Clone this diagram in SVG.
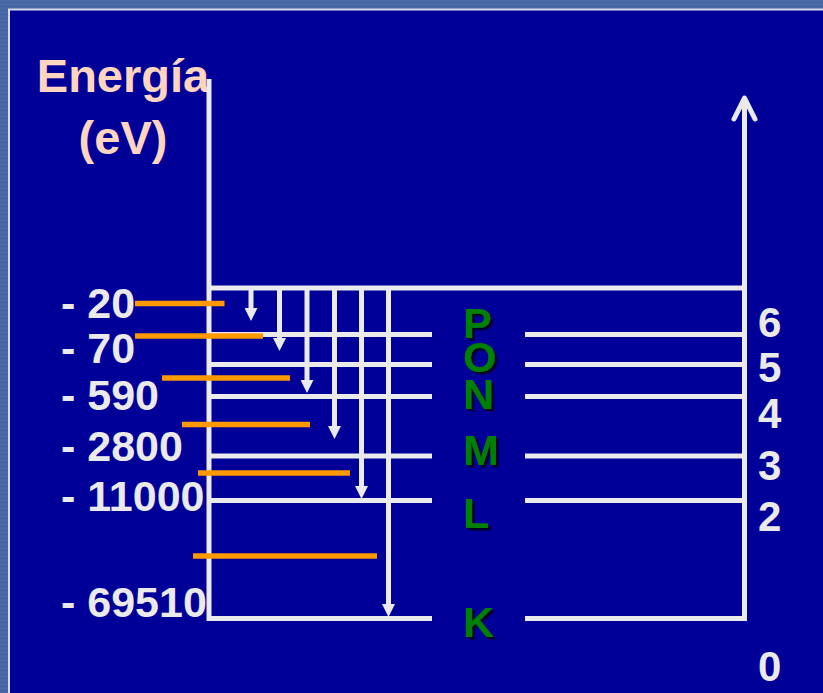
<svg xmlns="http://www.w3.org/2000/svg" width="823" height="693" viewBox="0 0 823 693">
<defs>
<pattern id="stripes" width="8" height="4" patternUnits="userSpaceOnUse">
<rect width="8" height="4" fill="#4a69a7"/>
<rect y="2" width="8" height="1" fill="#42609d"/>
</pattern>
<marker id="ah" viewBox="0 0 13 13" markerWidth="13" markerHeight="13" refX="1" refY="6.5" orient="auto" markerUnits="userSpaceOnUse">
<path d="M0,0 L13,6.5 L0,13 Z" fill="#eaeaea"/>
</marker>
<filter id="shadow" x="-20%" y="-20%" width="150%" height="150%">
<feDropShadow dx="2.5" dy="2.5" stdDeviation="0.4" flood-color="#000022" flood-opacity="1"/>
</filter>
</defs>
<style>
.w{stroke:#eaeaea;stroke-width:5;fill:none}
.o{stroke:#ff9900;stroke-width:5.5;fill:none}
.lbl{font-family:"Liberation Sans",Arial,sans-serif;font-weight:bold;fill:#eaeaea;font-size:43px}
.num{font-family:"Liberation Sans",Arial,sans-serif;font-weight:bold;fill:#eaeaea;font-size:42px}
.sh{font-family:"Liberation Sans",Arial,sans-serif;font-weight:bold;font-size:43px;fill:#008000;filter:url(#shadow)}
.t{font-family:"Liberation Sans",Arial,sans-serif;font-weight:bold;fill:#ffd5c0;font-size:47px;text-anchor:middle}
</style>
<rect width="823" height="693" fill="url(#stripes)"/>
<rect x="9" y="9.5" width="830" height="700" fill="#000099" stroke="#d8dcec" stroke-width="2"/>

<g id="title">
<text class="t" x="123" y="92">Energía</text>
<text class="t" x="123" y="154">(eV)</text>
</g>

<g id="frame-lines">
<path class="w" d="M209,79 V621"/>
<path class="w" d="M209,288 H745"/>
<path class="w" d="M744.5,620.5 V100" stroke-linecap="butt"/>
<polyline class="w" points="734,119 744.5,98 755,119" stroke-linejoin="round" stroke-linecap="round"/>
</g>

<g id="level-P"><path class="w" d="M209,334.5 H432 M525,334.5 H745"/></g>
<g id="level-O"><path class="w" d="M209,364.5 H432 M525,364.5 H745"/></g>
<g id="level-N"><path class="w" d="M209,396.5 H432 M525,396.5 H745"/></g>
<g id="level-M"><path class="w" d="M209,456 H432 M525,456 H745"/></g>
<g id="level-L"><path class="w" d="M209,500.5 H432 M525,500.5 H745"/></g>
<g id="level-K"><path class="w" d="M209,618.5 H432 M525,618.5 H747"/></g>

<g id="connectors">
<path class="w" d="M251,288 V309" marker-end="url(#ah)"/>
<path class="w" d="M279.5,288 V339" marker-end="url(#ah)"/>
<path class="w" d="M307,288 V381" marker-end="url(#ah)"/>
<path class="w" d="M334.5,288 V427" marker-end="url(#ah)"/>
<path class="w" d="M361.5,288 V487" marker-end="url(#ah)"/>
<path class="w" d="M388.5,288 V605" marker-end="url(#ah)"/>
</g>

<g id="orange-bars">
<path class="o" d="M135,303.5 H224.5"/>
<path class="o" d="M135,336 H263"/>
<path class="o" d="M162,378 H290"/>
<path class="o" d="M182,424.5 H310"/>
<path class="o" d="M198,473 H350"/>
<path class="o" d="M193,556 H377"/>
</g>

<g id="energy-labels">
<text class="lbl" x="61" y="318">- 20</text>
<text class="lbl" x="61" y="363">- 70</text>
<text class="lbl" x="61" y="410">- 590</text>
<text class="lbl" x="61" y="461">- 2800</text>
<text class="lbl" x="61" y="511">- 11000</text>
<text class="lbl" x="61" y="617">- 69510</text>
</g>

<g id="shell-labels" class="sh">
<text x="463" y="338">P</text>
<text x="463" y="372">O</text>
<text x="463" y="409">N</text>
<text x="463" y="465">M</text>
<text x="463" y="528">L</text>
<text x="463" y="637">K</text>
</g>

<g id="n-labels">
<text class="num" x="758" y="337">6</text>
<text class="num" x="758" y="382">5</text>
<text class="num" x="758" y="428">4</text>
<text class="num" x="758" y="480">3</text>
<text class="num" x="758" y="531">2</text>
<text class="num" x="758" y="681">0</text>
</g>
</svg>
